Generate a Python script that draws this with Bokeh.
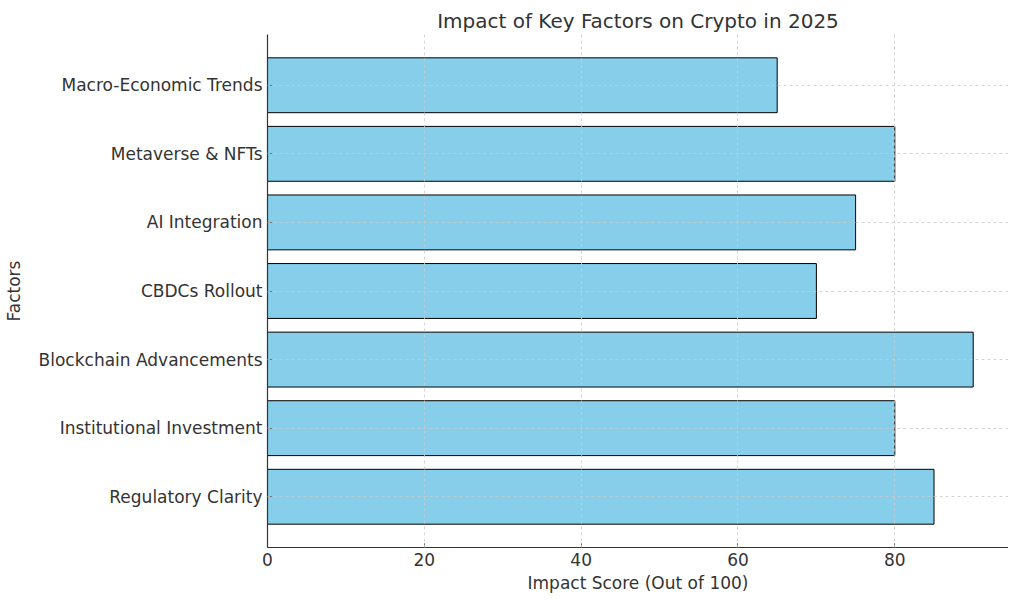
from bokeh.plotting import figure
from bokeh.models import FactorRange, Range1d, FixedTicker
from bokeh.embed import file_html
from bokeh.resources import INLINE

categories = ["Regulatory Clarity", "Institutional Investment", "Blockchain Advancements",
              "CBDCs Rollout", "AI Integration", "Metaverse & NFTs", "Macro-Economic Trends"]
scores = [85, 80, 90, 70, 75, 80, 65]
x_ticks = [0, 20, 40, 60, 80]

TEXT = "#333333"
FONT = "DejaVu Sans"

p = figure(width=1008, height=595, output_backend="svg", toolbar_location=None,
           y_range=FactorRange(factors=categories, range_padding=0.48 / 7, range_padding_units="percent"),
           x_range=Range1d(0, max(scores) * 1.05),
           title="Impact of Key Factors on Crypto in 2025",
           min_border_left=265, min_border_right=0, min_border_top=34, min_border_bottom=46)

p.hbar(y=categories, right=scores, left=0, height=0.8, fill_color="#87CEEB",
       line_color="black", line_width=1)

p.title.align = "center"
p.title.text_font = FONT
p.title.text_font_size = "20px"
p.title.text_font_style = "normal"
p.title.text_color = TEXT
p.title.standoff = 4
p.outline_line_color = None

p.xaxis.ticker = FixedTicker(ticks=x_ticks)
for ax in (p.xaxis[0], p.yaxis[0]):
    ax.major_label_text_font = FONT
    ax.major_label_text_font_size = "17px"
    ax.major_label_text_color = TEXT
    ax.axis_label_text_font = FONT
    ax.axis_label_text_font_size = "17px"
    ax.axis_label_text_font_style = "normal"
    ax.axis_label_text_color = TEXT
    ax.axis_line_color = TEXT
    ax.axis_line_width = 1.2
    ax.major_tick_line_color = TEXT
    ax.major_tick_in = 4
    ax.major_tick_out = 0
    ax.minor_tick_line_color = None
    ax.major_label_standoff = 5

p.xaxis.axis_label = "Impact Score (Out of 100)"
p.xaxis.axis_label_standoff = 4
p.yaxis.axis_label = "Factors"
p.yaxis.axis_label_standoff = 12

for g in (p.xgrid[0], p.ygrid[0]):
    g.grid_line_color = "#cccccc"
    g.grid_line_dash = "3 3"
    g.grid_line_width = 0.8
    g.level = "overlay"

open("out.html", "w").write(file_html(p, INLINE))
